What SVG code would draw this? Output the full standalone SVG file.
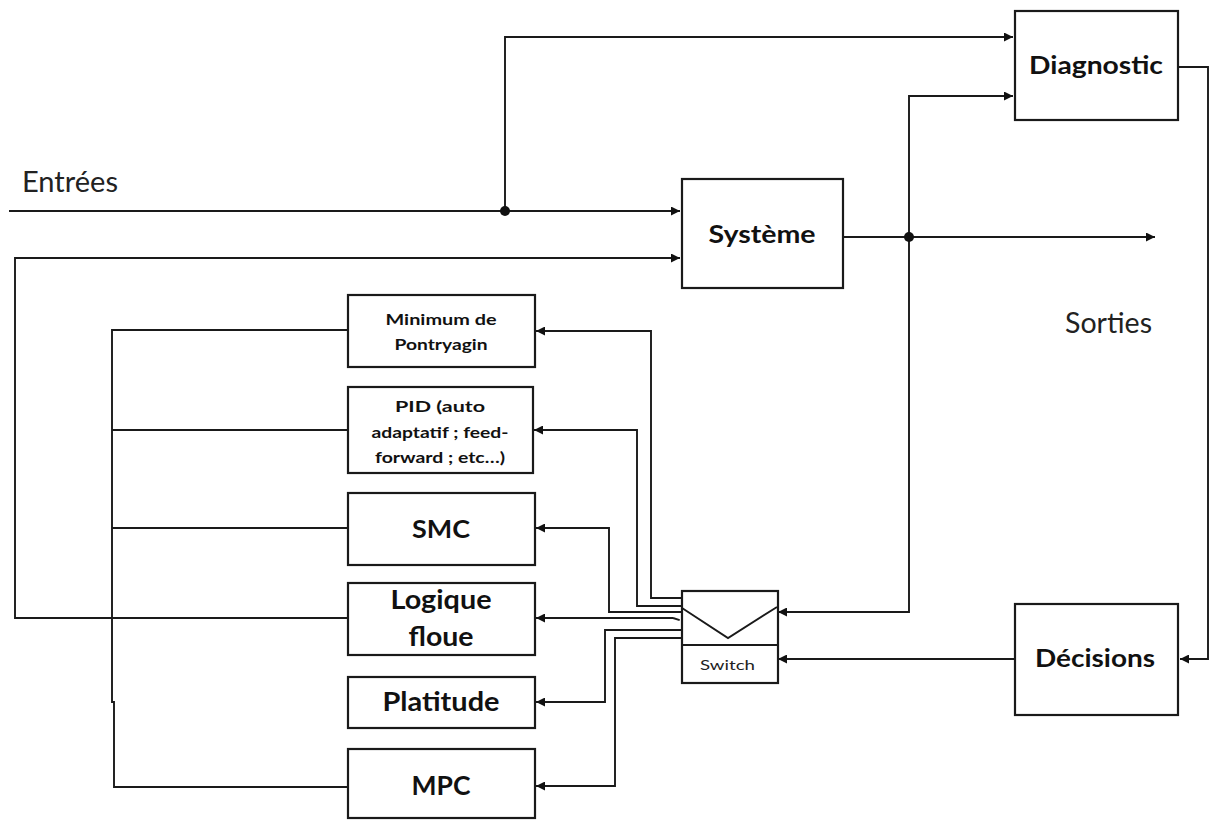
<svg xmlns="http://www.w3.org/2000/svg" width="1209" height="821" viewBox="0 0 1209 821">
<style>
.box{fill:#fff;stroke:#1a1a1a;stroke-width:2.2}
.ln{fill:none;stroke:#1a1a1a;stroke-width:1.9}
.arr{marker-end:url(#ah)}
.b{font-family:Lato,"Noto Sans",sans-serif;font-weight:bold;fill:#111;text-anchor:middle}
.r{font-family:Lato,"Noto Sans",sans-serif;fill:#222}
</style>
<defs>
<marker id="ah" viewBox="0 0 10 10" refX="10" refY="5" markerWidth="11" markerHeight="9" markerUnits="userSpaceOnUse" orient="auto">
<path d="M0,0 L10,5 L0,10 z" fill="#111"/>
</marker>
</defs>
<rect width="1209" height="821" fill="#fff"/>
<g id="connectors">
<path class="ln arr" d="M9,211 H680"/>
<path class="ln arr" d="M505,211 V37 H1013"/>
<path class="ln arr" d="M348,618 H15 V258 H680"/>
<path class="ln arr" d="M843,237 H1155"/>
<path class="ln arr" d="M909,237 V96 H1013"/>
<path class="ln arr" d="M909,237 V612 H778"/>
<path class="ln arr" d="M1178,67 H1208 V659 H1180"/>
<path class="ln arr" d="M1015,659 H778"/>
<path class="ln" d="M348,330 H112 V702 H114 V787 H348"/>
<path class="ln" d="M112,430 H348"/>
<path class="ln" d="M112,528 H348"/>
<path class="ln arr" d="M682,598 H651 V331 H536"/>
<path class="ln arr" d="M682,606 H637 V430 H534"/>
<path class="ln arr" d="M682,612 H609 V528 H536"/>
<path class="ln arr" d="M673,618 H536"/>
<path class="ln" d="M673,618 L719,632" stroke-dasharray="7,4"/>
<path class="ln arr" d="M682,630 H605 V702 H536"/>
<path class="ln arr" d="M682,638 H615 V786 H536"/>
<circle cx="505" cy="211" r="5" fill="#111"/>
<circle cx="909" cy="237" r="5" fill="#111"/>
</g>
<g id="labels">
<text class="r" x="22" y="192" font-size="28" textLength="96" lengthAdjust="spacingAndGlyphs">Entrées</text>
<text class="r" x="1065" y="333" font-size="28" textLength="87" lengthAdjust="spacingAndGlyphs">Sorties</text>
</g>
<g id="diagnostic">
<rect class="box" x="1015" y="11" width="163" height="109"/>
<text class="b" x="1096" y="74" font-size="25" textLength="134" lengthAdjust="spacingAndGlyphs">Diagnostic</text>
</g>
<g id="systeme">
<rect class="box" x="682" y="179" width="161" height="109"/>
<text class="b" x="762" y="243" font-size="25" textLength="107" lengthAdjust="spacingAndGlyphs">Système</text>
</g>
<g id="decisions">
<rect class="box" x="1015" y="604" width="163" height="111"/>
<text class="b" x="1095" y="667" font-size="25" textLength="120" lengthAdjust="spacingAndGlyphs">Décisions</text>
</g>
<g id="switch">
<rect class="box" x="682" y="591" width="96" height="92"/>
<path class="ln" d="M682,645 H778"/>
<path class="ln" d="M682,608 L728,638 L777,607"/>
<text class="r" x="727.5" y="670" font-size="14" text-anchor="middle" textLength="55" lengthAdjust="spacingAndGlyphs">Switch</text>
</g>
<g id="pontryagin">
<rect class="box" x="348" y="295" width="187" height="72"/>
<text class="b" x="441" y="325" font-size="16" textLength="111" lengthAdjust="spacingAndGlyphs">Minimum de</text>
<text class="b" x="441" y="350" font-size="16" textLength="93" lengthAdjust="spacingAndGlyphs">Pontryagin</text>
</g>
<g id="pid">
<rect class="box" x="348" y="387" width="185" height="86"/>
<text class="b" x="440" y="412" font-size="16" textLength="90" lengthAdjust="spacingAndGlyphs">PID (auto</text>
<text class="b" x="440" y="438" font-size="16" textLength="137" lengthAdjust="spacingAndGlyphs">adaptatif ; feed-</text>
<text class="b" x="440" y="463" font-size="16" textLength="130" lengthAdjust="spacingAndGlyphs">forward ; etc…)</text>
</g>
<g id="smc">
<rect class="box" x="348" y="493" width="187" height="72"/>
<text class="b" x="441" y="538" font-size="25" textLength="58" lengthAdjust="spacingAndGlyphs">SMC</text>
</g>
<g id="logique">
<rect class="box" x="348" y="583" width="187" height="72"/>
<text class="b" x="441" y="609" font-size="26" textLength="101" lengthAdjust="spacingAndGlyphs">Logique</text>
<text class="b" x="441" y="646" font-size="26" textLength="65" lengthAdjust="spacingAndGlyphs">floue</text>
</g>
<g id="platitude">
<rect class="box" x="348" y="677" width="187" height="51"/>
<text class="b" x="441" y="711" font-size="26" textLength="117" lengthAdjust="spacingAndGlyphs">Platitude</text>
</g>
<g id="mpc">
<rect class="box" x="348" y="749" width="187" height="69"/>
<text class="b" x="441" y="795" font-size="27" textLength="59" lengthAdjust="spacingAndGlyphs">MPC</text>
</g>
</svg>
